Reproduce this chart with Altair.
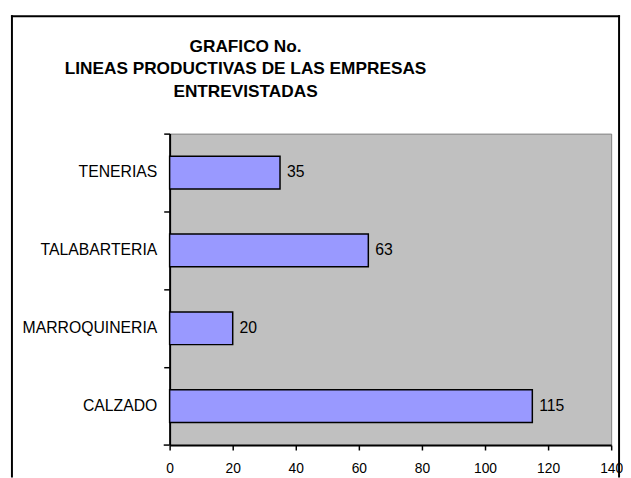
import altair as alt
import pandas as pd

categories = ["TENERIAS", "TALABARTERIA", "MARROQUINERIA", "CALZADO"]
values = [35, 63, 20, 115]
x_ticks = [0, 20, 40, 60, 80, 100, 120, 140]
title_lines = ["GRAFICO No.", "LINEAS PRODUCTIVAS DE LAS EMPRESAS", "ENTREVISTADAS"]

df = pd.DataFrame({"linea": categories, "empresas": values})
one = pd.DataFrame({"k": [0]})

W, H = 448, 316
FONT = "Liberation Sans"

y_enc = alt.Y(
    "linea:N", sort=categories, title=None,
    scale=alt.Scale(paddingInner=0.58, paddingOuter=0.29),
    axis=alt.Axis(labelFont=FONT, labelFontSize=16, labelColor="black", labelPadding=7,
                  tickSize=6, tickColor="black", tickWidth=1.5,
                  domainColor="black", domainWidth=2, bandPosition=-0.69, labelAngle=0),
)
x_enc = alt.X(
    "empresas:Q", title=None,
    scale=alt.Scale(domain=[0, 140], nice=False),
    axis=alt.Axis(values=x_ticks, grid=False, labelFont=FONT, labelFontSize=14,
                  labelColor="black", labelPadding=12, tickSize=5, tickColor="black",
                  tickWidth=1.5, domainColor="black", domainWidth=2, labelFlush=False),
)

bars = alt.Chart(df).mark_bar(color="#9999FF", stroke="black", strokeWidth=1.5).encode(
    x=x_enc, y=y_enc
)
labels = alt.Chart(df).mark_text(
    align="left", baseline="middle", dx=7, font=FONT, fontSize=16, color="black"
).encode(x="empresas:Q", y=alt.Y("linea:N", sort=categories), text="empresas:Q")

title = alt.Chart(one).mark_text(
    align="center", baseline="top", font=FONT, fontSize=17.5, fontWeight="bold",
    lineHeight=23, color="black",
).encode(x=alt.value(77), y=alt.value(-97), text=alt.value(title_lines))

frame_kw = dict(color="black", strokeWidth=2, strokeCap="square")
frame_left = alt.Chart(one).mark_rule(**frame_kw).encode(
    x=alt.value(-160), y=alt.value(-119), y2=alt.value(H + 32))
frame_right = alt.Chart(one).mark_rule(**frame_kw).encode(
    x=alt.value(W + 8), y=alt.value(-119), y2=alt.value(H + 32))
frame_top = alt.Chart(one).mark_rule(**frame_kw).encode(
    x=alt.value(-160), x2=alt.value(W + 8), y=alt.value(-119))
corner_tick = alt.Chart(one).mark_rule(color="black", strokeWidth=1.5).encode(
    x=alt.value(-6), x2=alt.value(0), y=alt.value(H))

chart = alt.layer(bars, labels, corner_tick, title, frame_left, frame_right, frame_top).properties(
    width=W, height=H,
    padding={"left": 2, "top": 3, "right": 0, "bottom": 0},
    background="white",
).configure_view(fill="#C0C0C0", stroke="#808080", strokeWidth=1)

chart.save("out.html", embed_options={"renderer": "svg", "actions": False})
